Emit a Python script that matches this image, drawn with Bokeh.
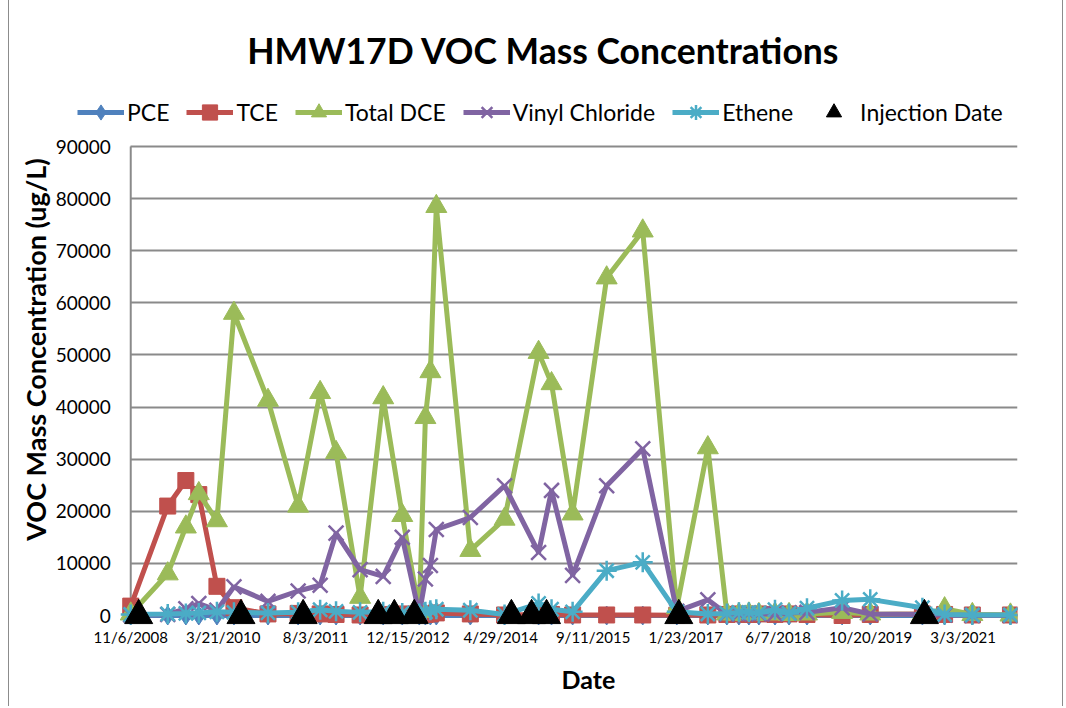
import math
import pandas as pd
from bokeh.plotting import figure
from bokeh.models import (ColumnDataSource, Range1d, FixedTicker, CustomJSTickFormatter,
                          Legend, LegendItem, Title, Label, Grid)
from bokeh.core.properties import value
from bokeh.embed import file_html
from bokeh.resources import INLINE

# ---------------- data ----------------
sample_dates = ["2008-11-06", "2009-05-25", "2009-08-31", "2009-11-09", "2010-02-15",
                "2010-05-18", "2010-11-18", "2011-04-30", "2011-08-27", "2011-11-21",
                "2012-03-30", "2012-08-02", "2012-11-13", "2013-02-13", "2013-03-18",
                "2013-04-14", "2013-05-16", "2013-11-16", "2014-05-20", "2014-11-20",
                "2015-01-29", "2015-05-23", "2015-11-23", "2016-06-05", "2016-12-06",
                "2017-05-23", "2017-09-03", "2017-11-07", "2017-12-31", "2018-02-23",
                "2018-05-21", "2018-08-05", "2018-11-10", "2019-05-19", "2019-10-18",
                "2020-07-26", "2020-11-23", "2021-04-22", "2021-11-14"]

pce = [0, 0, 0, 0, 0, 0, 0, 0, 0, 0,
       0, 0, 0, 0, 0, 0, 0, 0, 0, 0,
       0, 0, 0, 0, 0, 0, 0, 0, 0, 0,
       0, 0, 0, 0, 0, 0, 0, 0, 0]

tce = [1800, 21000, 25900, 23200, 5600, 1500, 300, 400, 300, 200,
       100, 200, 300, 200, 200, 300, 500, 300, 100, 200,
       200, 100, 100, 100, 50, 100, 200, 300, 200, 300,
       200, 300, 200, 0, 200, 300, 200, 100, 100]

total_dce = [300, 8000, 17000, 23400, 18200, 58000, 41300, 21000, 42800, 31300,
             3500, 41800, 19200, 800, 38000, 46800, 78500, 12500, 18500, 50500,
             44500, 19500, 64800, 73800, 1500, 32200, 300, 200, 300, 200,
             300, 200, 300, 600, 300, 200, 1300, 200, 100]

vinyl_chloride = [100, 200, 1300, 2300, 1000, 5500, 2700, 4700, 5800, 15800,
                  8800, 7500, 15000, 300, 7000, 9600, 16500, 18800, 24900, 12100,
                  24000, 7700, 24900, 32000, 800, 3000, 300, 300, 400, 300,
                  300, 500, 600, 1500, 300, 200, 100, 0, 0]

ethene = [200, 300, 400, 500, 700, 600, 500, 600, 1100, 800,
          600, 700, 500, 400, 700, 1000, 1200, 1000, 200, 2300,
          1200, 700, 8600, 10200, 700, 300, 400, 600, 600, 500,
          1100, 400, 1400, 2900, 3100, 1500, 200, 100, 100]

injection_dates = ["2008-12-19", "2010-06-25", "2011-05-27", "2012-07-06", "2012-10-01",
                   "2013-01-17", "2014-06-26", "2014-10-13", "2015-01-02", "2016-12-17",
                   "2020-08-06"]
injection_values = [0, 0, 0, 0, 0, 0, 0, 0, 0, 0, 0]

x_tick_labels = ["11/6/2008", "3/21/2010", "8/3/2011", "12/15/2012", "4/29/2014",
                 "9/11/2015", "1/23/2017", "6/7/2018", "10/20/2019", "3/3/2021"]
y_ticks = [0, 10000, 20000, 30000, 40000, 50000, 60000, 70000, 80000, 90000]
y_tick_labels = ["0", "10000", "20000", "30000", "40000", "50000", "60000",
                 "70000", "80000", "90000"]

# ---------------- layout geometry (page pixels) ----------------
FONT = "Lato"
FIG_W, FIG_H = 1055, 706
CANVAS_X0 = 9                      # margin 8 + 1px border
FRAME_L, FRAME_R = 12, 1015
FRAME_T, FRAME_B = 0, 627
ORIGIN_PX = 130                    # where the first tick date sits
PX_PER_TICK = 92.3                 # pixels per 500-day tick step
Y0_PX, YTOP_PX = 615, 146          # pixel rows of y = 0 and y = 90000

dts = pd.to_datetime(sample_dates)
inj = pd.to_datetime(injection_dates)
ticks = pd.to_datetime(x_tick_labels, format="%m/%d/%Y")
origin = ticks[0]
tick_days = (ticks[1] - ticks[0]).days
px_per_day = PX_PER_TICK / tick_days
x_start = origin - pd.Timedelta(days=(ORIGIN_PX - FRAME_L) / px_per_day)
x_end = origin + pd.Timedelta(days=(FRAME_R - ORIGIN_PX) / px_per_day)

upp = (y_ticks[-1] - y_ticks[0]) / (Y0_PX - YTOP_PX)
y_start = y_ticks[0] - (FRAME_B - Y0_PX) * upp
y_end = y_ticks[-1] + (YTOP_PX - FRAME_T) * upp

p = figure(width=FIG_W, height=FIG_H, output_backend="svg", toolbar_location=None,
           x_axis_type="datetime", y_axis_location=None,
           x_range=Range1d(x_start, x_end), y_range=Range1d(y_start, y_end),
           min_border_left=FRAME_L - CANVAS_X0, min_border_right=CANVAS_X0 + FIG_W - 2 - FRAME_R,
           min_border_top=FRAME_T, min_border_bottom=FIG_H - FRAME_B,
           background_fill_color="white", border_fill_color="white",
           outline_line_color=None,
           styles={"margin-left": "8px",
                   "border-left": "1px solid #8c8c8c",
                   "border-right": "1px solid #8c8c8c"})

# hide the automatic grids (the unplaced y axis still created one)
p.xgrid.visible = False
p.ygrid.visible = False
p.add_layout(Grid(dimension=1, ticker=FixedTicker(ticks=y_ticks),
                  cross_bounds=(origin.value / 1e6, x_end.value / 1e6),
                  grid_line_color="#8a8a8a", grid_line_width=2))

tick_ms = [t.value / 1e6 for t in ticks]
p.xaxis.ticker = FixedTicker(ticks=tick_ms)
p.xaxis.formatter = CustomJSTickFormatter(code="""
const d = new Date(tick);
return (d.getUTCMonth() + 1) + '/' + d.getUTCDate() + '/' + d.getUTCFullYear();
""")
p.xaxis.axis_line_color = None
p.xaxis.major_tick_line_color = None
p.xaxis.minor_tick_line_color = None
p.xaxis.major_label_standoff = -6
p.xaxis.major_label_text_font = FONT
p.xaxis.major_label_text_font_size = "15px"
p.xaxis.major_label_text_color = "black"

# vertical value axis line and its tick labels
p.segment(x0=[origin], y0=[y_ticks[0]], x1=[origin], y1=[y_ticks[-1]],
          line_color="#8a8a8a", line_width=2)
p.text(x=[origin] * len(y_ticks), y=y_ticks, text=y_tick_labels, x_offset=-20,
       text_align="right", text_baseline="middle", text_font=value(FONT),
       text_font_size="19px", text_color="black")

src = ColumnDataSource(dict(x=dts, pce=pce, tce=tce, dce=total_dce,
                            vc=vinyl_chloride, eth=ethene))
isrc = ColumnDataSource(dict(x=inj, y=injection_values))

LW = 5
items = []

l = p.line("x", "pce", source=src, line_color="#4F81BD", line_width=LW)
m = p.scatter("x", "pce", source=src, marker="diamond", size=19,
              fill_color="#4F81BD", line_color="#4F81BD")
items.append(LegendItem(label="PCE", renderers=[l, m]))

l = p.line("x", "tce", source=src, line_color="#C0504D", line_width=LW)
m = p.scatter("x", "tce", source=src, marker="square", size=16,
              fill_color="#C0504D", line_color="#C0504D")
items.append(LegendItem(label="TCE", renderers=[l, m]))

l = p.line("x", "dce", source=src, line_color="#9BBB59", line_width=LW)
m = p.scatter("x", "dce", source=src, marker="triangle", size=21,
              fill_color="#9BBB59", line_color="#9BBB59")
items.append(LegendItem(label="Total DCE", renderers=[l, m]))

l = p.line("x", "vc", source=src, line_color="#8064A2", line_width=LW)
m = p.scatter("x", "vc", source=src, marker="x", size=21,
              line_color="#8064A2", line_width=2.5)
items.append(LegendItem(label="Vinyl Chloride", renderers=[l, m]))

l = p.line("x", "eth", source=src, line_color="#4BACC6", line_width=LW)
m = p.scatter("x", "eth", source=src, marker="asterisk", size=20,
              line_color="#4BACC6", line_width=2.5)
items.append(LegendItem(label="Ethene", renderers=[l, m]))

m = p.scatter("x", "y", source=isrc, marker="triangle", size=28,
              fill_color="black", line_color="black")
items.append(LegendItem(label="Injection Date", renderers=[m]))

LEG_H = 38
legend = Legend(items=items, orientation="horizontal",
                location=(77 - FRAME_L, FRAME_B - 112 - LEG_H // 2),
                glyph_width=47, glyph_height=LEG_H, label_height=LEG_H,
                label_standoff=3, spacing=17, padding=0, margin=0,
                border_line_color=None, background_fill_color=None,
                label_text_font=FONT, label_text_font_size="23px",
                label_text_color="black")
p.add_layout(legend)

p.add_layout(Label(x=543 - FRAME_L, y=FRAME_B - 50, x_units="screen", y_units="screen",
                   text="HMW17D VOC Mass Concentrations", text_font=FONT,
                   text_font_size="35.5px", text_font_style="bold",
                   text_align="center", text_baseline="middle", text_color="black"))
p.add_layout(Label(x=35 - FRAME_L, y=FRAME_B - 349, x_units="screen", y_units="screen",
                   text="VOC Mass Concentration (ug/L)", text_font=FONT,
                   text_font_size="27px", text_font_style="bold", angle=math.pi / 2,
                   text_align="center", text_baseline="middle", text_color="black"))
p.add_layout(Title(text="Date", align="left", offset=561 - FRAME_L,
                   standoff=26, text_font=FONT, text_font_size="25px",
                   text_font_style="bold", text_color="black"), "below")

open("out.html", "w").write(file_html(p, INLINE))
